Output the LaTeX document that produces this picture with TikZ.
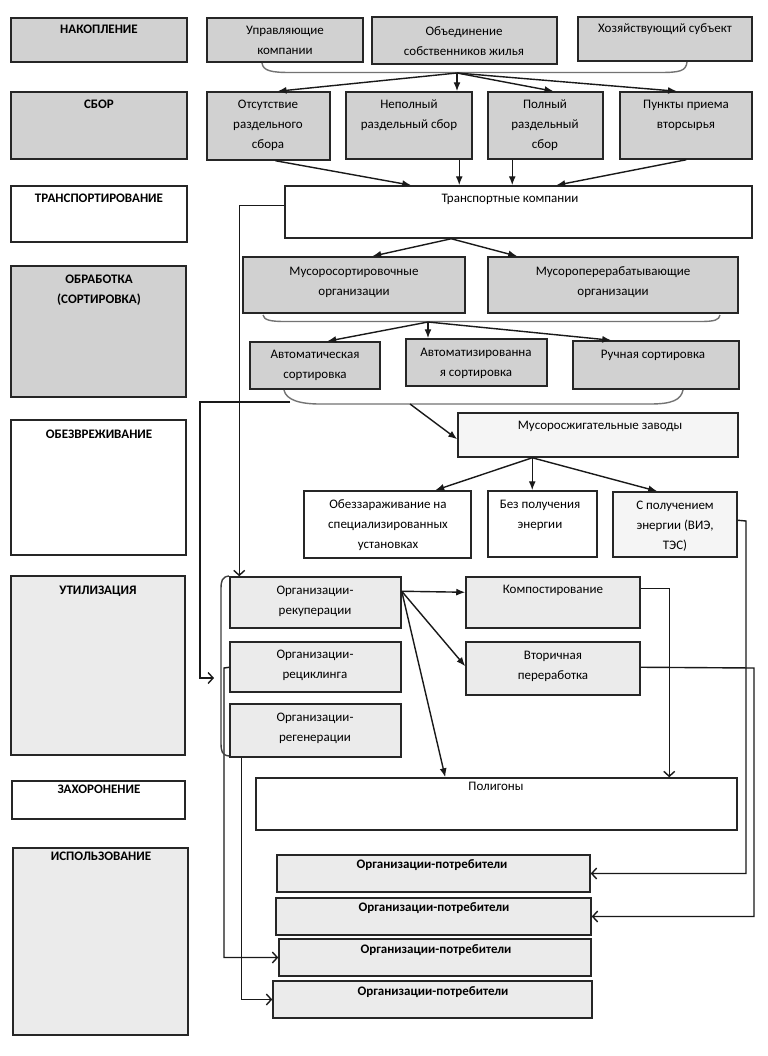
\documentclass[tikz,border=0pt]{standalone}
\usepackage{fontspec}
\setmainfont{Carlito}
\usetikzlibrary{arrows.meta,calc,fit}
\newcommand\tstrut{\rule{0pt}{9bp}}
\newcommand\bx[6]{\node[box,#2,fit={(#3,#4)(#5,#6)}] (#1) {};}
\newcommand\tx[5][]{\node[txt,#1,anchor=north] (#2) at (#3,#4-6) {\tstrut #5};}
\tikzset{
  box/.style={draw=black!85, line width=1.5bp, inner sep=0pt},
  dg/.style={fill=black!18},
  lg/.style={fill=black!8},
  vg/.style={fill=black!4},
  wh/.style={fill=white},
  txt/.style={inner sep=0pt, align=center, font=\fontsize{13bp}{20bp}\selectfont},
  hd/.style={font=\fontsize{13bp}{20bp}\selectfont\bfseries},
  fa/.style={-{Latex[length=9bp,width=7bp]}, line width=1.4bp, draw=black!90},
  oa/.style={-{Straight Barb[length=5bp,width=11bp,line width=1.4bp]}, line width=1.4bp, draw=black!90},
  brc/.style={draw=black!55, line width=1.4bp}
}
\begin{document}
\begin{tikzpicture}[x=1bp,y=-1bp]
\fill[white] (0,0) rectangle (768,1056);
\useasboundingbox (0,0) rectangle (768,1056);

% left column
\bx{L1}{dg}{11}{18}{187}{62}
\bx{L2}{dg}{11}{92}{187}{159}
\bx{L3}{wh}{11}{186}{187}{242}
\bx{L4}{dg}{11}{266}{186}{397}
\bx{L5}{wh}{11}{420}{186}{555}
\bx{L6}{lg}{11}{576}{185}{755}
\bx{L7}{wh}{12}{781}{185}{819}
\bx{L8}{lg}{13}{848}{188}{1035}
\tx[hd]{L1t}{99}{30}{НАКОПЛЕНИЕ}
\tx[hd]{L2t}{99}{105}{СБОР}
\tx[hd]{L3t}{99}{199}{ТРАНСПОРТИРОВАНИЕ}
\tx[hd]{L4t}{99}{280}{ОБРАБОТКА\\(СОРТИРОВКА)}
\tx[hd]{L5t}{99}{435}{ОБЕЗВРЕЖИВАНИЕ}
\tx[hd]{L6t}{98}{591}{УТИЛИЗАЦИЯ}
\tx[hd]{L7t}{99}{790}{ЗАХОРОНЕНИЕ}
\tx[hd]{L8t}{101}{857}{ИСПОЛЬЗОВАНИЕ}

% accumulation
\bx{A1}{dg}{207}{18}{363}{62}
\bx{A2}{dg}{372}{17}{557}{64}
\bx{A3}{dg}{578}{17}{752}{61}
\tx{A1t}{285}{31}{Управляющие\\компании}
\tx{A2t}{464}{32}{Объединение\\собственников жилья}
\tx{A3t}{665}{29}{Хозяйствующий субъект}

% collection
\bx{B1}{dg}{207}{92}{330}{160}
\bx{B2}{dg}{346}{92}{472}{159}
\bx{B3}{dg}{488}{92}{603}{159}
\bx{B4}{dg}{620}{92}{752}{159}
\tx{B1t}{268}{105}{Отсутствие\\раздельного\\сбора}
\tx{B2t}{409}{105}{Неполный\\раздельный сбор}
\tx{B3t}{545}{105}{Полный\\раздельный\\сбор}
\tx{B4t}{686}{105}{Пункты приема\\вторсырья}

% transport
\bx{T}{wh}{285}{186}{752}{238}
\tx{Tt}{510}{199}{Транспортные компании}

% processing
\bx{C1}{dg}{243}{257}{465}{313}
\bx{C2}{dg}{488}{257}{738}{313}
\tx{C1t}{354}{272}{Мусоросортировочные\\организации}
\tx{C2t}{613}{272}{Мусороперерабатывающие\\организации}
\bx{D1}{dg}{250}{342}{380}{389}
\bx{D2}{dg}{406}{339}{547}{386}
\bx{D3}{dg}{573}{341}{739}{389}
\tx{D1t}{315}{355}{Автоматическая\\сортировка}
\tx{D2t}{476}{353}{Автоматизированна\\я сортировка}
\tx{D3t}{653}{355}{Ручная сортировка}

% neutralisation
\bx{M}{vg}{458}{413}{738}{457}
\tx{Mt}{600}{426}{Мусоросжигательные заводы}
\bx{E1}{wh}{304}{491}{471}{558}
\bx{E2}{wh}{488}{491}{597}{557}
\bx{E3}{vg}{613}{492}{737}{557}
\tx{E1t}{388}{505}{Обеззараживание на\\специализированных\\установках}
\tx{E2t}{540}{505}{Без получения\\энергии}
\tx{E3t}{675}{506}{С получением\\энергии (ВИЭ,\\ТЭС)}

% utilisation
\bx{U1}{lg}{230}{577}{401}{628}
\bx{U2}{lg}{230}{642}{401}{692}
\bx{U3}{lg}{230}{704}{401}{757}
\tx{U1t}{315}{591}{Организации-\\рекуперации}
\tx{U2t}{315}{655}{Организации-\\рециклинга}
\tx{U3t}{315}{718}{Организации-\\регенерации}
\bx{K}{lg}{466}{577}{640}{628}
\bx{V}{lg}{466}{642}{640}{695}
\tx{Kt}{553}{590}{Компостирование}
\tx{Vt}{553}{656}{Вторичная\\переработка}

% landfill
\bx{P}{wh}{256}{778}{737}{830}
\tx{Pt}{496}{787}{Полигоны}

% consumers
\bx{O1}{lg}{277}{855}{590}{892}
\bx{O2}{lg}{276}{898}{591}{935}
\bx{O3}{lg}{279}{939}{591}{976}
\bx{O4}{lg}{273}{981}{592}{1018}
\tx[hd]{O1t}{432}{865}{Организации-потребители}
\tx[hd]{O2t}{434}{908}{Организации-потребители}
\tx[hd]{O3t}{436}{950}{Организации-потребители}
\tx[hd]{O4t}{433}{992}{Организации-потребители}

% brace 1
\draw[brc] (262,63) .. controls (263,71) and (272,72.5) .. (290,72.5) -- (660,72.5) .. controls (680,72.5) and (686,71) .. (687,62);
\coordinate (br1) at (457,73);
\draw[fa] (br1) -- ($(B1.north)+(9,0)$);
\draw[fa] (br1) -- (B2.north -| br1);
\draw[fa] (br1) -- ($(B3.north)+(8,0)$);
\draw[fa] (br1) -- ($(B4.north)+(-9,0)$);

% collection -> transport
\draw[fa] ($(B1.south)+(7,0)$) -- ($(T.north west)+(127,0)$);
\draw[fa] ($(B2.south west)+(114,0)$) -- ($(T.north west)+(175,0)$);
\draw[fa] ($(B3.south west)+(25,0)$) -- ($(T.north west)+(228,0)$);
\draw[fa] ($(B4.south west)+(67,0)$) -- ($(T.north west)+(272,0)$);

% transport -> processing
\coordinate (ts) at ($(T.south west)+(167,0)$);
\draw[fa] (ts) -- ($(C1.north west)+(130,0)$);
\draw[fa] (ts) -- ($(C2.north west)+(30,0)$);

% brace 2
\draw[brc] (263,315) .. controls (264,320) and (270,321.5) .. (285,321.5) -- (700,321.5) .. controls (715,321.5) and (719,320) .. (720,315);
\coordinate (br2) at (428,322);
\draw[fa] (br2) -- ($(D1.north west)+(78,0)$);
\draw[fa] (br2) -- (D2.north -| br2);
\draw[fa] (br2) -- ($(D3.north west)+(39,0)$);

% brace 3
\draw[brc] (284,390) .. controls (286,400) and (300,404) .. (320,404) -- (650,404) .. controls (672,404) and (681,400) .. (683,390);
\coordinate (br3) at (410,404);
\draw[fa] (br3) -- ($(M.north west)+(0,27)$);
\coordinate (br3l) at (290,402);
\coordinate (k1) at (200,402);
\coordinate (ubrk) at (214,678);
\draw[oa] (br3l) -- (k1) |- (ubrk);

% transport -> recuperation
\draw[oa] ($(T.north west)+(0,20)$) -| ($(U1.north west)+(10,0)$);

% incineration -> options
\coordinate (ms) at ($(M.south west)+(75,0)$);
\draw[fa] (ms) -- ($(E1.north west)+(132,0)$);
\draw[fa] (ms) -- (E2.north -| ms);
\draw[fa] (ms) -- ($(E3.north west)+(45,0)$);

% energy -> consumers 1
\coordinate (r1) at (746,521);
\draw[oa] ($(E3.north east)+(0,29)$) -- (r1) |- (O1.east);

% recuperation arrows
\coordinate (u1e) at ($(U1.north east)+(0,15)$);
\draw[fa] (u1e) -- ($(K.north west)+(0,16)$);
\draw[fa] (u1e) -- ($(V.north west)+(0,25)$);
\draw[fa] (u1e) -- ($(P.north west)+(190,0)$);

% composting -> landfill
\draw[oa] ($(K.north east)+(0,12)$) -| ($(P.north west)+(414,0)$);

% recycling -> consumers 2
\coordinate (r2) at (754,668);
\draw[oa] ($(V.north east)+(0,26)$) -- (r2) |- (O2.east);

% recycling orgs -> consumers 3
\coordinate (r3) at (224,668);
\draw[oa] ($(U2.north west)+(0,26)$) -- (r3) |- (O3.west);

% regeneration -> consumers 4
\draw[oa] ($(U3.south west)+(12,0)$) |- (O4.west);

% bracket round utilisation organisations
\draw[line width=1.4bp, draw=black!75] (229,576) .. controls (222,577) and (221,580) .. (221,590) -- (221,742) .. controls (221,752) and (222,755) .. (229,756);
\end{tikzpicture}
\end{document}
